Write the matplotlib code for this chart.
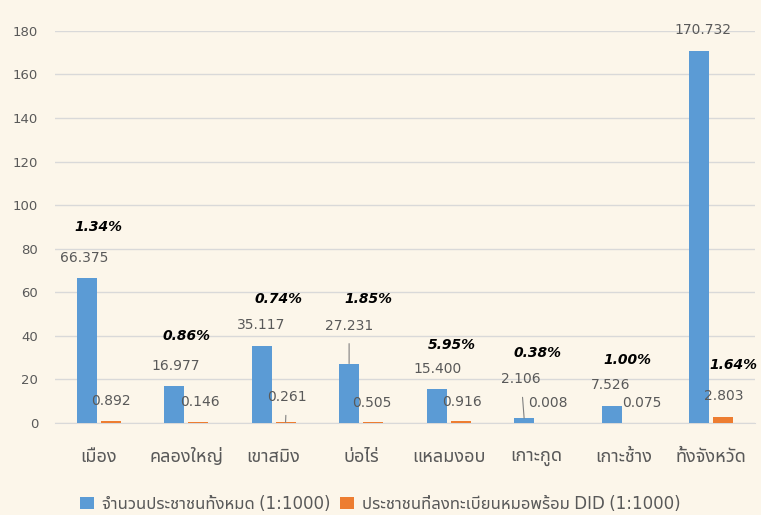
import matplotlib
matplotlib.use("Agg")
import matplotlib.pyplot as plt
from matplotlib import font_manager, ft2font

# categories and values (thousands of people)
districts = ["เมือง", "คลองใหญ่", "เขาสมิง", "บ่อไร่", "แหลมงอบ",
             "เกาะกูด", "เกาะช้าง", "ทั้งจังหวัด"]
population = [66.375, 16.977, 35.117, 27.231, 15.400, 2.106, 7.526, 170.732]
registered = [0.892, 0.146, 0.261, 0.505, 0.916, 0.008, 0.075, 2.803]
percent_labels = ["1.34%", "0.86%", "0.74%", "1.85%", "5.95%", "0.38%", "1.00%", "1.64%"]
yticks = [0, 20, 40, 60, 80, 100, 120, 140, 160, 180]
legend_labels = ["จำนวนประชาชนทั้งหมด (1:1000)",
                 "ประชาชนที่ลงทะเบียนหมอพร้อม DID (1:1000)"]

# label placement (offset pixels from bar top), hand tuned like the original
pop_off = [(-2, 20), (2, 20), (0, 21), (0, 38), (1, 20), (-3, 39), (-1, 21), (4, 21)]
pop_leader = [False, False, False, True, False, True, False, False]
reg_off = [(0, 20), (2, 20), (1, 25), (-1, 19), (1, 19), (0, 20), (6, 20), (1, 21)]
reg_leader = [False, False, True, False, False, False, False, False]
pct_off = [(12, 51), (12, 50), (17, 47), (19, 65), (15, 44), (13, 65), (16, 46), (10, 52)]
pct_on_orange = [False] * 7 + [True]


#%% find a font with Thai glyphs
def find_thai_font():
    found = []
    for f in font_manager.fontManager.ttflist:
        try:
            cmap = ft2font.FT2Font(f.fname).get_charmap()
        except Exception:
            continue
        if 0x0E01 in cmap and f.name not in found:
            found.append(f.name)
    for pref in ["Tahoma", "Noto Sans Thai UI", "Noto Sans Thai", "Loma", "Garuda"]:
        if pref in found:
            return pref
    return found[0] if found else "DejaVu Sans"


thai = find_thai_font()
plt.rcParams['font.family'] = [thai, 'DejaVu Sans']

bg = "#FCF6EA"
blue = "#5B9BD5"
orange = "#ED7D31"
gray = "#595959"

fig = plt.figure(figsize=(7.61, 5.15), dpi=100, facecolor=bg)
ax = fig.add_axes([0.072, 0.179, 0.92, 0.761], facecolor=bg)

x = list(range(len(districts)))
w = 0.2286
shift = 0.137
b1 = ax.bar([i - shift for i in x], population, w, color=blue, label=legend_labels[0], zorder=3)
b2 = ax.bar([i + shift for i in x], registered, w, color=orange, label=legend_labels[1], zorder=3)

ax.set_xlim(-0.5, len(districts) - 0.5)
ax.set_ylim(0, 180)
ax.set_yticks(yticks)
ax.set_xticks(x)
ax.set_xticklabels(districts, fontsize=13, color=gray)
ax.tick_params(axis='y', labelsize=9.5, colors=gray, length=0, pad=12)
ax.tick_params(axis='x', length=0, pad=18)
ax.grid(axis='y', color="#D9D9D9", lw=1, zorder=0)
for s in ["top", "right", "left"]:
    ax.spines[s].set_visible(False)
ax.spines["bottom"].set_color("#D9D9D9")

leader = dict(arrowstyle='-', color="#808080", lw=0.8, shrinkA=6, shrinkB=0)

for i in x:
    xb = i - shift
    dx, dy = pop_off[i]
    ax.annotate(f"{population[i]:.3f}", (xb, population[i]), xytext=(dx, dy),
                textcoords='offset pixels', ha='center', va='center', fontsize=10,
                color=gray, arrowprops=leader if pop_leader[i] else None, zorder=4)
    xo = i + shift
    dx, dy = reg_off[i]
    ax.annotate(f"{registered[i]:.3f}", (xo, registered[i]), xytext=(dx, dy),
                textcoords='offset pixels', ha='center', va='center', fontsize=10,
                color=gray, arrowprops=leader if reg_leader[i] else None, zorder=4)
    dx, dy = pct_off[i]
    anchor = (xo, registered[i]) if pct_on_orange[i] else (xb, population[i])
    ax.annotate(percent_labels[i], anchor, xytext=(dx, dy), textcoords='offset pixels',
                ha='center', va='center', fontsize=10, fontweight='bold',
                fontstyle='italic', color='black', family=['DejaVu Sans'], zorder=4)

fig.legend(handles=[b1, b2], loc='lower center', bbox_to_anchor=(0.5, -0.025), ncol=2,
           frameon=False, fontsize=12, labelcolor=gray, handlelength=0.8,
           handleheight=0.8, handletextpad=0.5, columnspacing=0.6)

fig.savefig("out.png", dpi=100, facecolor=bg)
